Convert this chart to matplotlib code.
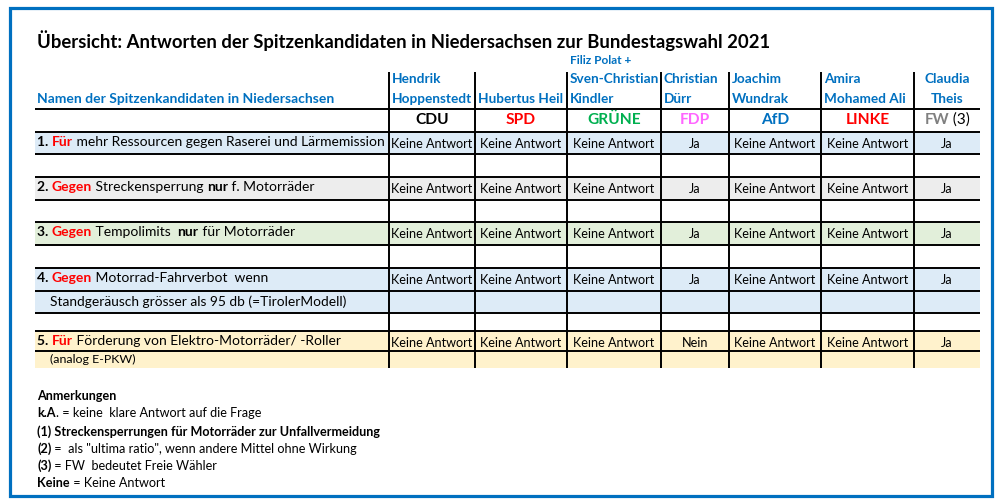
import matplotlib
matplotlib.use("Agg")
import matplotlib.pyplot as plt
from matplotlib.patches import Rectangle

plt.rcParams['font.family'] = ['Lato', 'DejaVu Sans']

BLUE = '#0070C0'
RED = '#FF0000'

title = "Übersicht: Antworten der Spitzenkandidaten in Niedersachsen zur Bundestagswahl 2021"
header_label = "Namen der Spitzenkandidaten in Niedersachsen"

candidates = [
    ["Hendrik", "Hoppenstedt"],
    ["Hubertus Heil"],
    ["Filiz Polat +", "Sven-Christian", "Kindler"],
    ["Christian", "Dürr"],
    ["Joachim", "Wundrak"],
    ["Amira", "Mohamed Ali"],
    ["Claudia", "Theis"],
]
parties = ["CDU", "SPD", "GRÜNE", "FDP", "AfD", "LINKE", "FW"]
party_colors = ['black', '#FF0000', '#00B050', '#FF66FF', '#0070C0', '#FF0000', '#808080']

# question text: list of (text, bold, colour) runs, optional second line
questions = [
    [("1. ", True, 'black'), ("Für", True, RED), (" mehr Ressourcen gegen Raserei und Lärmemission", False, 'black')],
    [("2. ", True, 'black'), ("Gegen", True, RED), (" Streckensperrung ", False, 'black'),
     ("nur", True, 'black'), (" f. Motorräder", False, 'black')],
    [("3. ", True, 'black'), ("Gegen", True, RED), (" Tempolimits  ", False, 'black'),
     ("nur", True, 'black'), (" für Motorräder", False, 'black')],
    [("4. ", True, 'black'), ("Gegen", True, RED), (" Motorrad-Fahrverbot  wenn", False, 'black')],
    [("5. ", True, 'black'), ("Für", True, RED), (" Förderung von Elektro-Motorräder/ -Roller", False, 'black')],
]
second_lines = [None, None, None, "Standgeräusch grösser als 95 db (=TirolerModell)", "(analog E-PKW)"]

answers = [
    ["Keine Antwort", "Keine Antwort", "Keine Antwort", "Ja", "Keine Antwort", "Keine Antwort", "Ja"],
    ["Keine Antwort", "Keine Antwort", "Keine Antwort", "Ja", "Keine Antwort", "Keine Antwort", "Ja"],
    ["Keine Antwort", "Keine Antwort", "Keine Antwort", "Ja", "Keine Antwort", "Keine Antwort", "Ja"],
    ["Keine Antwort", "Keine Antwort", "Keine Antwort", "Ja", "Keine Antwort", "Keine Antwort", "Ja"],
    ["Keine Antwort", "Keine Antwort", "Keine Antwort", "Nein", "Keine Antwort", "Keine Antwort", "Ja"],
]
row_fills = ['#DDEBF7', '#EDEDED', '#E2EFDA', '#DDEBF7', '#FFF2CC']

notes = [
    [("Anmerkungen", True)],
    [("k.A", True), (". = keine  klare Antwort auf die Frage", False)],
    [("(1) Streckensperrungen für Motorräder zur Unfallvermeidung", True)],
    [("(2)", True), (" =  als \"ultima ratio\", wenn andere Mittel ohne Wirkung", False)],
    [("(3)", True), (" = FW  bedeutet Freie Wähler", False)],
    [("Keine", True), (" = Keine Antwort", False)],
]

# layout in pixels
col_x = [389, 475, 567, 661, 729, 821, 914, 980]
left_x = 35
row_tops = [132, 177, 222, 268, 331]
row_h = [22, 23, 23, 45, 37]
row_lines = [109, 132, 154, 177, 200, 222, 245, 268, 291, 313, 331, 351]

fig = plt.figure(figsize=(10, 5.04), dpi=100)
ax = fig.add_axes([0, 0, 1, 1])
ax.set_xlim(0, 1000)
ax.set_ylim(504, 0)
ax.axis('off')
renderer = fig.canvas.get_renderer()


def run_width(s, size, bold):
    # measure with guard bars so leading/trailing blanks count
    w = 'bold' if bold else 'normal'
    t1 = ax.text(0, 0, '|' + s + '|', fontsize=size, fontweight=w)
    t2 = ax.text(0, 0, '||', fontsize=size, fontweight=w)
    d = t1.get_window_extent(renderer).width - t2.get_window_extent(renderer).width
    t1.remove()
    t2.remove()
    return d


def draw_runs(x, y, runs, size, ha='left'):
    widths = [run_width(s, size, b) for s, b, c in runs]
    if ha == 'center':
        x = x - sum(widths) / 2
    for (s, b, c), w in zip(runs, widths):
        ax.text(x, y, s, fontsize=size, fontweight='bold' if b else 'normal',
                color=c, va='center', ha='left')
        x += w


# frame
ax.add_patch(Rectangle((10, 8), 982, 488, fill=False, ec=BLUE, lw=2.3))

ax.text(37, 41, title, fontsize=13.3, fontweight='bold', va='center', ha='left')

# shaded rows
for top, h, fc in zip(row_tops, row_h, row_fills):
    ax.add_patch(Rectangle((left_x, top), col_x[-1] - left_x, h, fc=fc, ec='none'))

for y in row_lines:
    ax.plot([left_x, col_x[-1]], [y, y], color='black', lw=1.4, solid_capstyle='butt')
for x in col_x[:-1]:
    ax.plot([x, x], [72, 368], color='black', lw=1.4, solid_capstyle='butt')

# header
ax.text(37, 99, header_label, fontsize=10.0, fontweight='bold', color=BLUE, va='center')
for i, names in enumerate(candidates):
    ys = [99, 79, 61][:len(names)][::-1]
    for j, (nm, y) in enumerate(zip(names, ys)):
        fs = 8.6 if (len(names) == 3 and j == 0) else 9.8
        if i == len(candidates) - 1:
            ax.text((col_x[i] + col_x[i + 1]) / 2, y, nm, fontsize=fs, fontweight='bold',
                    color=BLUE, va='center', ha='center')
        else:
            ax.text(col_x[i] + 3, y, nm, fontsize=fs, fontweight='bold', color=BLUE, va='center')

for i, (p, c) in enumerate(zip(parties, party_colors)):
    cx = (col_x[i] + col_x[i + 1]) / 2
    if p == "FW":
        draw_runs(cx, 120, [(p, True, c), (" (3)", False, 'black')], 11.0, ha='center')
    else:
        ax.text(cx, 120, p, fontsize=11.2, fontweight='bold', color=c, va='center', ha='center')

# questions and answers
for k, (runs, extra, ans) in enumerate(zip(questions, second_lines, answers)):
    top = row_tops[k]
    draw_runs(37, top + 10, runs, 10.0)
    if extra is not None:
        fs = 9.9 if k == 3 else 8.9
        ax.text(50, top + 34 if k == 3 else top + 28, extra, fontsize=fs, va='center')
    for i, a in enumerate(ans):
        cx = (col_x[i] + col_x[i + 1]) / 2
        ax.text(cx, top + 12, a, fontsize=9.1, va='center', ha='center')

# notes
note_y = [396, 413, 432, 449, 466, 483]
for runs, y in zip(notes, note_y):
    draw_runs(37, y, [(s, b, 'black') for s, b in runs], 9.1)

fig.savefig('out.png', dpi=100)
